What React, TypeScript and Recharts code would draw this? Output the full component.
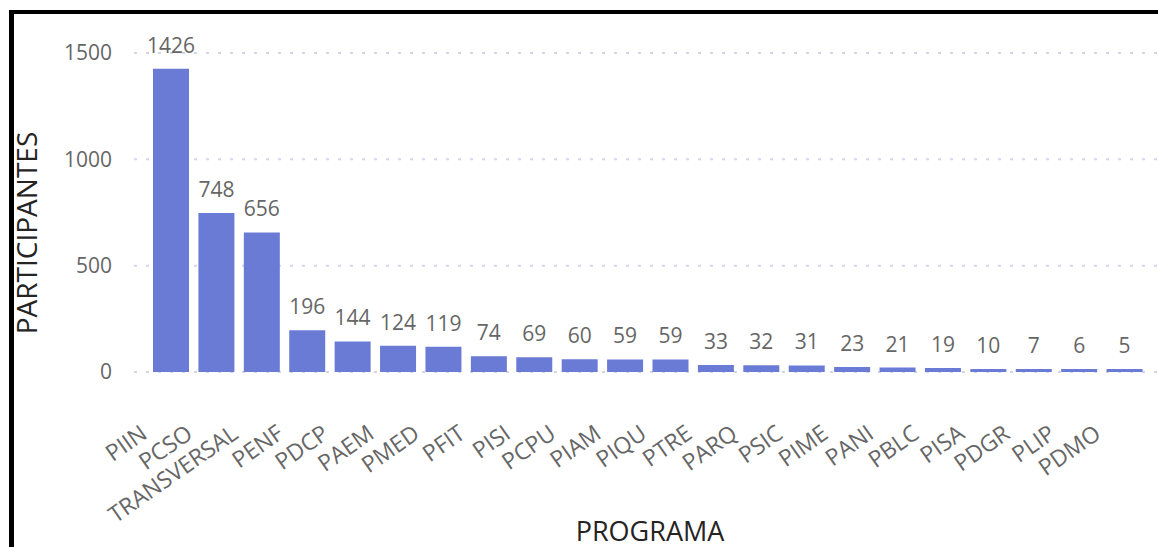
import { BarChart, Bar, XAxis, YAxis, CartesianGrid, LabelList } from 'recharts';

const programas = [
  'PIIN', 'PCSO', 'TRANSVERSAL', 'PENF', 'PDCP', 'PAEM', 'PMED', 'PFIT', 'PISI', 'PCPU', 'PIAM',
  'PIQU', 'PTRE', 'PARQ', 'PSIC', 'PIME', 'PANI', 'PBLC', 'PISA', 'PDGR', 'PLIP', 'PDMO',
];
const participantes = [1426, 748, 656, 196, 144, 124, 119, 74, 69, 60, 59, 59, 33, 32, 31, 23, 21, 19, 10, 7, 6, 5];
const yTicks = [0, 500, 1000, 1500];

const data = programas.map((p, i) => ({ programa: p, participantes: participantes[i] }));

const FONT = '"Open Sans", "Noto Sans", sans-serif';
const GRAY = '#666666';

// rotated category labels, Power BI style (end of the text sits left of the bar)
const CategoryTick = (props: any) => {
  const { x, y, payload } = props;
  return (
    <g transform={`translate(${x},${y})`}>
      <text
        x={-22}
        y={65}
        textAnchor="end"
        fill={GRAY}
        fontSize={23}
        fontFamily={FONT}
        transform="rotate(-35 -22 65)"
      >
        {payload.value}
      </text>
    </g>
  );
};

export default function App() {
  return (
    <div style={{ position: 'relative', width: 1158, height: 547, overflow: 'hidden' }}>
      <style>{`html,body{margin:0;padding:0;overflow:hidden;background:#fff}`}</style>
      {/* frame of the visual, only left and top edges are visible */}
      <div
        style={{
          position: 'absolute',
          left: 9,
          top: 10,
          width: 1400,
          height: 800,
          borderLeft: '5px solid #000',
          borderTop: '4px solid #000',
        }}
      />
      <div style={{ position: 'absolute', left: 0, top: 0 }}>
        <BarChart width={1158} height={547} data={data} margin={{ top: 53, right: 0, bottom: 55, left: 0 }}>
          <CartesianGrid vertical={false} stroke="#d4d4ec" strokeWidth={2} strokeDasharray="3 9" />
          <XAxis
            dataKey="programa"
            interval={0}
            axisLine={false}
            tickLine={false}
            tickSize={0}
            tickMargin={0}
            height={120}
            padding={{ left: 14, right: 11 }}
            tick={<CategoryTick />}
          />
          <YAxis
            width={134}
            domain={[0, 1500]}
            ticks={yTicks}
            axisLine={false}
            tickLine={false}
            tickSize={0}
            tickMargin={22}
            tick={{ fill: GRAY, fontSize: 21, fontFamily: FONT }}
          />
          <Bar dataKey="participantes" fill="#6a7bd6" barSize={36} minPointSize={3} isAnimationActive={false}>
            <LabelList
              dataKey="participantes"
              position="top"
              offset={16}
              fill={GRAY}
              fontSize={21}
              fontFamily={FONT}
            />
          </Bar>
        </BarChart>
      </div>
      <div
        style={{
          position: 'absolute',
          left: 26,
          top: 233,
          transform: 'translate(-50%, -50%) rotate(-90deg)',
          whiteSpace: 'nowrap',
          fontFamily: FONT,
          fontSize: 28,
          color: '#252423',
          lineHeight: 1,
        }}
      >
        PARTICIPANTES
      </div>
      <div
        style={{
          position: 'absolute',
          left: 650,
          top: 530,
          transform: 'translate(-50%, -50%)',
          whiteSpace: 'nowrap',
          fontFamily: FONT,
          fontSize: 27,
          color: '#252423',
          lineHeight: 1,
        }}
      >
        PROGRAMA
      </div>
    </div>
  );
}
